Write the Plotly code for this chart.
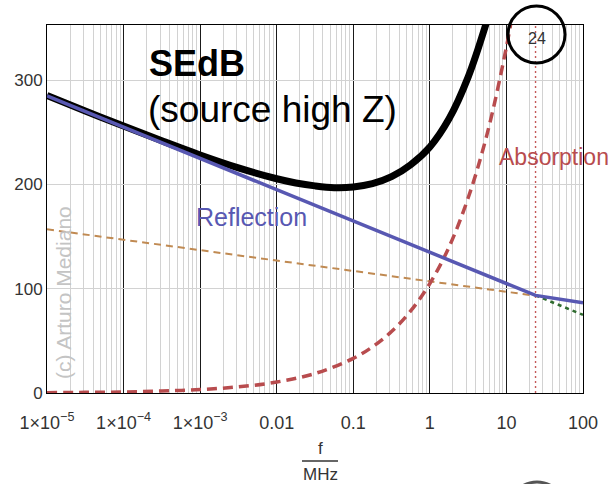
import plotly.graph_objects as go

# ---------------- data ----------------
# total shielding effectiveness (black)
total_f = [1e-5, 3.16e-5, 1e-4, 3.16e-4, 1e-3, 3.16e-3, 0.01, 0.0178, 0.0316,
           0.0562, 0.1, 0.178, 0.316, 0.562, 1, 1.78, 3.16, 5.62]
total_db = [285.3, 270.6, 256.0, 241.9, 228.3, 215.9, 205.5, 201.5, 198.7,
            197.0, 197.6, 200.8, 207.5, 219.0, 236.0, 263.0, 303.0, 358.0]

# absorption (red dashed)
abs_f = [1e-5, 3.16e-5, 1e-4, 3.16e-4, 1e-3, 3.16e-3, 0.01, 0.0316, 0.1,
         0.178, 0.316, 0.562, 1, 1.78, 3.16, 5.62, 10, 12.6]
abs_db = [0.3, 0.6, 1.0, 1.9, 3.3, 5.9, 10.5, 18.7, 33.2,
          44.3, 59.0, 78.7, 105.0, 140.0, 187.0, 249.0, 332.0, 373.0]

# reflection (blue)
refl_f = [1e-5, 24, 100]
refl_db = [285.0, 93.6, 86.5]

# plane-wave reflection (orange dashed)
plane_f = [1e-5, 24]
plane_db = [157.0, 93.3]

# high-Z near-field reflection continued (green dotted)
near_f = [24, 100]
near_db = [93.6, 75.0]

marker_freq = 24
marker_label = "24"

x_ticks = [1e-5, 1e-4, 1e-3, 0.01, 0.1, 1, 10, 100]
x_ticktext = ["1×10<sup>−5</sup>", "1×10<sup>−4</sup>", "1×10<sup>−3</sup>",
              "0.01", "0.1", "1", "10", "100"]
x_minor = [k * d for d in [1e-5, 1e-4, 1e-3, 0.01, 0.1, 1, 10] for k in range(2, 10)]
y_ticks = [0, 100, 200, 300]
y_range = [0, 353]

# ---------------- geometry helpers (pixels -> paper) ----------------
W, H = 610, 484
L, R, T, B = 47, 27, 25, 91
PW, PH = W - L - R, H - T - B


def px(x):
    return (x - L) / PW


def py(y):
    return (H - B - y) / PH


FONT = "Liberation Sans, Arial, sans-serif"

fig = go.Figure()

fig.add_trace(go.Scatter(x=plane_f, y=plane_db, mode="lines",
                         line=dict(color="#c08a52", width=2, dash="7px,5px"),
                         hoverinfo="skip"))
fig.add_trace(go.Scatter(x=[marker_freq, marker_freq], y=y_range, mode="lines",
                         line=dict(color="#c45a5a", width=1.4, dash="2px,3px"),
                         hoverinfo="skip"))
fig.add_trace(go.Scatter(x=total_f, y=total_db, mode="lines",
                         line=dict(color="#000000", width=7, shape="spline"),
                         hoverinfo="skip"))
fig.add_trace(go.Scatter(x=abs_f, y=abs_db, mode="lines",
                         line=dict(color="#b84c4e", width=3.5, dash="10px,6px",
                                   shape="spline"),
                         hoverinfo="skip"))
fig.add_trace(go.Scatter(x=near_f, y=near_db, mode="lines",
                         line=dict(color="#2f6b2f", width=2.5, dash="4px,4px"),
                         hoverinfo="skip"))
fig.add_trace(go.Scatter(x=refl_f, y=refl_db, mode="lines",
                         line=dict(color="#5858b2", width=3.5),
                         hoverinfo="skip"))

annotations = [
    dict(text="<b>SEdB</b>", x=px(147), y=py(63), xanchor="left", yanchor="middle",
         font=dict(size=36, color="#000000")),
    dict(text="(source high Z)", x=px(146), y=py(109), xanchor="left", yanchor="middle",
         font=dict(size=37, color="#000000")),
    dict(text="Reflection", x=px(194), y=py(217), xanchor="left", yanchor="middle",
         font=dict(size=25, color="#5858b2")),
    dict(text="Absorption", x=px(497), y=py(157), xanchor="left", yanchor="middle",
         font=dict(size=23, color="#b84c4e")),
    dict(text="(c) Arturo Mediano", x=px(63), y=py(293), xanchor="center", yanchor="middle",
         textangle=-90, font=dict(size=21, color="#c4c4c4")),
    dict(text=marker_label, x=px(537), y=py(38), xanchor="center", yanchor="middle",
         font=dict(size=16, color="#333333")),
    dict(text="f", x=px(320), y=py(448), xanchor="center", yanchor="middle",
         font=dict(size=17, color="#333333")),
    dict(text="MHz", x=px(320), y=py(474), xanchor="center", yanchor="middle",
         font=dict(size=17, color="#333333")),
]
for a in annotations:
    a.update(xref="paper", yref="paper", showarrow=False)

shapes = [
    dict(type="circle", xref="paper", yref="paper",
         x0=px(508), x1=px(565), y0=py(63), y1=py(6),
         line=dict(color="#000000", width=3)),
    dict(type="circle", xref="paper", yref="paper",
         x0=px(509), x1=px(565), y0=py(538), y1=py(482),
         line=dict(color="#555555", width=3)),
    dict(type="line", xref="paper", yref="paper",
         x0=px(302), x1=px(338), y0=py(461), y1=py(461),
         line=dict(color="#333333", width=1.5)),
]

fig.update_layout(
    width=W, height=H,
    margin=dict(l=L, r=R, t=T, b=B, autoexpand=False),
    paper_bgcolor="white", plot_bgcolor="white",
    showlegend=False,
    font=dict(family=FONT, size=17, color="#333333"),
    annotations=annotations,
    shapes=shapes,
    xaxis=dict(type="log", range=[-5, 2], tickmode="array",
               tickvals=x_ticks, ticktext=x_ticktext,
               showgrid=True, gridcolor="#1a1a1a", gridwidth=1,
               minor=dict(tickmode="array", tickvals=x_minor, showgrid=True,
                          gridcolor="#d2d2d2", gridwidth=1),
               showline=True, linecolor="#000000", linewidth=1, mirror=True,
               ticks="", zeroline=False, ticklabelstandoff=13,
               tickfont=dict(size=18, color="#333333")),
    yaxis=dict(range=y_range, tickmode="array", tickvals=y_ticks,
               showgrid=True, gridcolor="#d2d2d2", gridwidth=1,
               showline=True, linecolor="#000000", linewidth=1, mirror=True,
               ticks="", zeroline=False, ticklabelstandoff=0,
               tickfont=dict(size=17, color="#333333")),
)

fig.write_html("out.html", config={"displayModeBar": False},
               post_script="document.body.style.margin='0';document.body.style.padding='0';")
